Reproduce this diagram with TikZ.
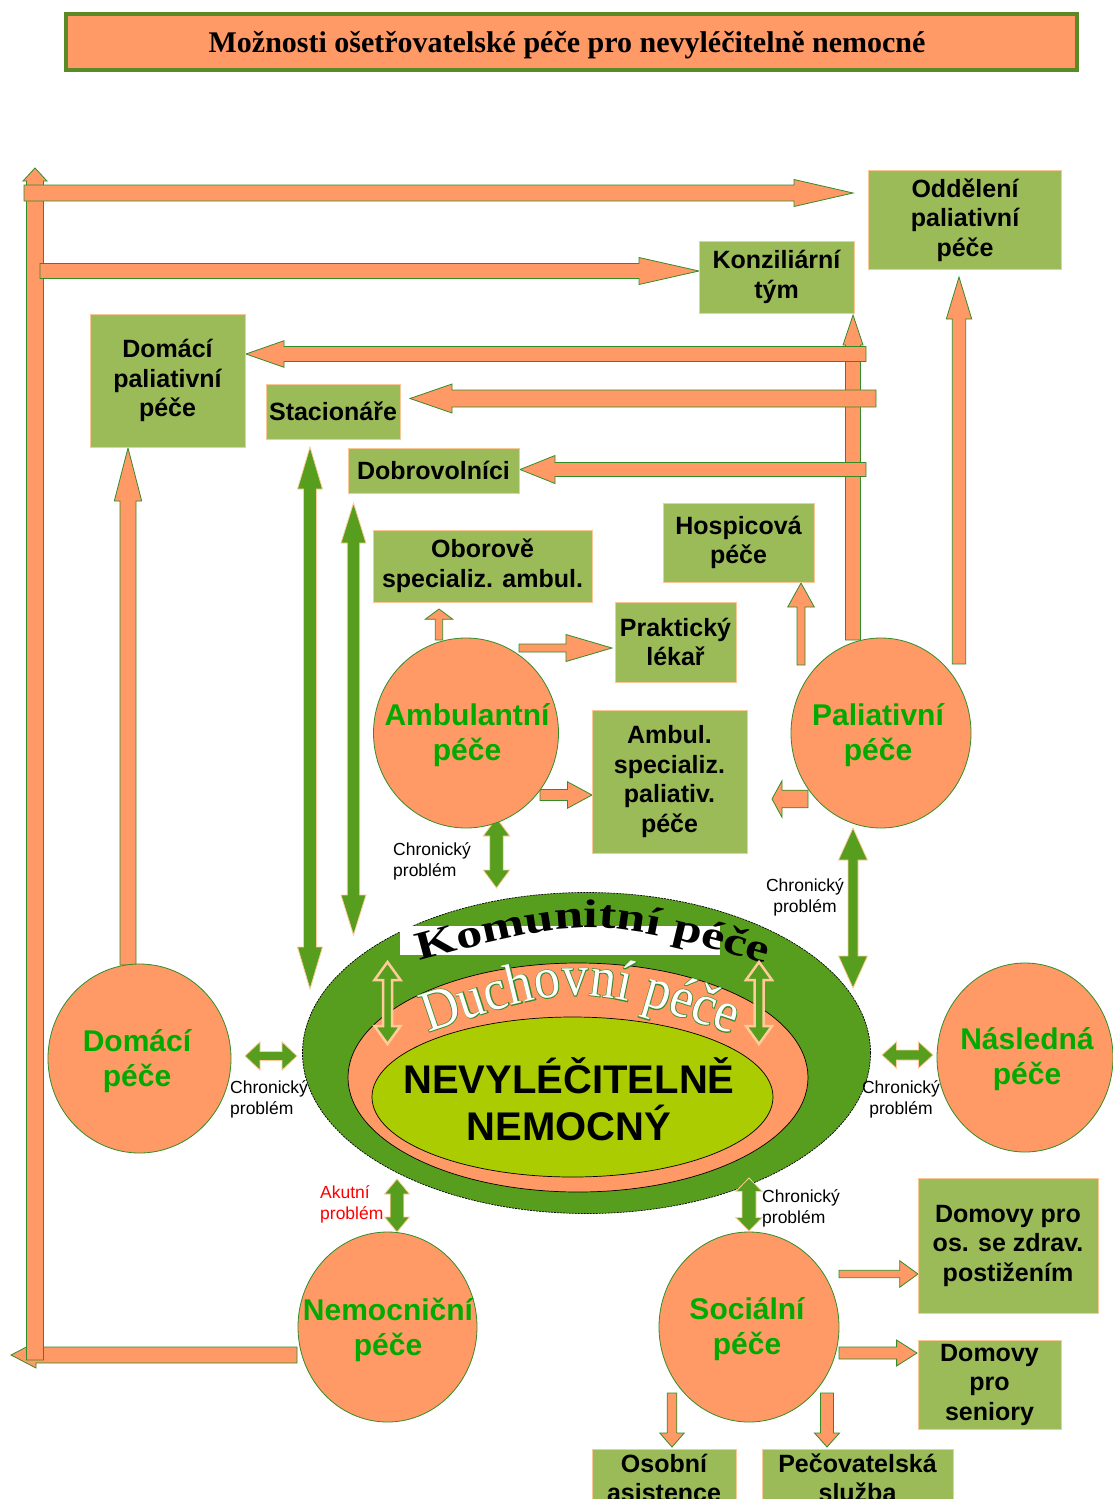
\documentclass[tikz,border=0pt]{standalone}
\usepackage{fontspec}
\setmainfont{Liberation Sans}
\newfontfamily\titlefont{Liberation Serif}
\newfontfamily\komfont{Liberation Serif}[FakeStretch=1.3]
\newfontfamily\duchfont{Liberation Serif}[FakeStretch=0.9]
\newfontfamily\duchfontO{Liberation Serif}[FakeStretch=0.9,FakeBold=2.5]
\usetikzlibrary{calc,shapes.geometric,decorations.text}
\definecolor{peach}{RGB}{255,153,102}
\definecolor{boxgreen}{RGB}{155,187,89}
\definecolor{boxedge}{RGB}{250,200,150}
\definecolor{agreen}{RGB}{88,158,30}
\definecolor{lineg}{RGB}{50,140,40}
\definecolor{txtgreen}{RGB}{0,170,0}
\definecolor{innerg}{RGB}{170,204,0}
\definecolor{lpeach}{RGB}{255,204,153}
\definecolor{titleedge}{RGB}{90,138,40}
\tikzset{
 gbox/.style={rectangle, draw=boxedge, fill=boxgreen, line width=1pt, align=center, inner sep=0pt, font=\bfseries\fontsize{25}{29.5}\selectfont},
 circ/.style={ellipse, draw=lineg, fill=peach, line width=0.8pt, inner sep=0pt},
 ctext/.style={inner sep=0pt, align=center, text=txtgreen, font=\bfseries\fontsize{30}{35}\selectfont},
 parr/.style={fill=peach, draw=lineg, line width=0.8pt},
 garr/.style={fill=agreen, draw=lpeach, line width=0.8pt},
 garrin/.style={fill=agreen, draw=lpeach, line width=2.5pt},
 lbl/.style={inner sep=0pt, font=\fontsize{17.5}{21}\selectfont},
}
% single block arrow: style, from, to, body half, head half, head length
\newcommand\barr[6]{%
  \coordinate (hb) at ($(#3)!#6pt!(#2)$);
  \path[#1] ($(#2)!#4pt!90:(#3)$) -- ($(hb)!#4pt!90:(#3)$) -- ($(hb)!#5pt!90:(#3)$) -- (#3)
    -- ($(hb)!#5pt!-90:(#3)$) -- ($(hb)!#4pt!-90:(#3)$) -- ($(#2)!#4pt!-90:(#3)$) -- cycle;}
% double block arrow
\newcommand\dbarr[6]{%
  \coordinate (ha) at ($(#2)!#6pt!(#3)$);
  \coordinate (hc) at ($(#3)!#6pt!(#2)$);
  \path[#1] (#2) -- ($(ha)!#5pt!90:(#3)$) -- ($(ha)!#4pt!90:(#3)$) -- ($(hc)!#4pt!90:(#3)$)
    -- ($(hc)!#5pt!90:(#3)$) -- (#3) -- ($(hc)!#5pt!-90:(#3)$) -- ($(hc)!#4pt!-90:(#3)$)
    -- ($(ha)!#4pt!-90:(#3)$) -- ($(ha)!#5pt!-90:(#3)$) -- cycle;}
\begin{document}
\begin{tikzpicture}[x=1pt,y=-1pt]
\useasboundingbox (0,0) rectangle (1113,1499);
\clip (0,0) rectangle (1113,1499);
\fill[white] (0,0) rectangle (1113,1499);

% title
\node[rectangle, draw=titleedge, line width=4pt, fill=peach, minimum width=1011pt, minimum height=56pt] (title) at (571.5,42) {};
\node[font=\titlefont\bfseries\fontsize{30}{32}\selectfont, inner sep=0pt] (titletext) at (567,45) {Možnosti ošetřovatelské péče pro nevyléčitelně nemocné};

% coordinates of arrow ends
\coordinate (nemA) at (297,1355);  \coordinate (nemB) at (11,1355);
\coordinate (lbA) at (35,1360);    \coordinate (lbB) at (35,168);
\coordinate (topA) at (24,193);    \coordinate (topB) at (853,193);
\coordinate (konA) at (40,271);    \coordinate (konB) at (699,271);
\coordinate (v853A) at (853,640);  \coordinate (v853B) at (853,315);
\coordinate (h353A) at (866,354);  \coordinate (h353B) at (246,354);
\coordinate (h398A) at (876,398.5);\coordinate (h398B) at (410,398.5);
\coordinate (h469A) at (866,469.5);\coordinate (h469B) at (520,469.5);
\coordinate (v959A) at (959,664);  \coordinate (v959B) at (959,277);
\coordinate (hosA) at (801,665);   \coordinate (hosB) at (801,583);
\coordinate (aspA) at (808,799);   \coordinate (aspB) at (772,799);
\coordinate (amsA) at (540,795);   \coordinate (amsB) at (592,795);
\coordinate (prA) at (519,648);    \coordinate (prB) at (612,648);
\coordinate (obA) at (439,640);    \coordinate (obB) at (439,609);
\coordinate (dpA) at (128,965);    \coordinate (dpB) at (128,448);
\coordinate (s1A) at (839,1274);   \coordinate (s1B) at (918,1274);
\coordinate (s2A) at (839,1353);   \coordinate (s2B) at (917,1353);
\coordinate (s3A) at (672,1393);   \coordinate (s3B) at (672,1447);
\coordinate (s4A) at (827,1393);   \coordinate (s4B) at (827,1447);
\coordinate (g1A) at (310,447);    \coordinate (g1B) at (310,989);
\coordinate (g2A) at (353.5,503);  \coordinate (g2B) at (353.5,935);
\coordinate (g3A) at (496.5,818);  \coordinate (g3B) at (496.5,888);
\coordinate (g4A) at (853,828);    \coordinate (g4B) at (853,988);
\coordinate (g5A) at (245,1056);   \coordinate (g5B) at (297,1056);
\coordinate (g6A) at (882,1055);   \coordinate (g6B) at (933,1055);
\coordinate (g7A) at (397,1179);   \coordinate (g7B) at (397,1232);
\coordinate (g8A) at (749,1178);   \coordinate (g8B) at (749,1231);
\coordinate (i1A) at (387.5,962);  \coordinate (i1B) at (387.5,1044);
\coordinate (i2A) at (759,962);    \coordinate (i2B) at (759,1044);
\coordinate (komA) at (404,965);   \coordinate (komC) at (590,915);  \coordinate (komB) at (782,968);
\coordinate (duA) at (414,1037);   \coordinate (duC) at (578,981);   \coordinate (duB) at (746,1039);

% back peach arrows
\barr{parr}{nemA}{nemB}{8}{13}{25}
\barr{parr}{lbA}{lbB}{8.5}{12}{13}
\barr{parr}{topA}{topB}{8}{13.5}{59}
\barr{parr}{konA}{konB}{7.5}{13.5}{60}
\barr{parr}{v853A}{v853B}{7.5}{10}{30}
\barr{parr}{h353A}{h353B}{7.5}{13.3}{38}
\barr{parr}{h398A}{h398B}{8.5}{14.5}{42}
\barr{parr}{h469A}{h469B}{7}{14}{35}
\barr{parr}{v959A}{v959B}{6.7}{12.7}{42}

% central ellipses
\node[ellipse, fill=agreen, draw=black, line width=0.7pt, dash pattern=on 2pt off 1pt, minimum width=568pt, minimum height=321pt] (komun) at (586.5,1053) {};
\node[rectangle, fill=white, minimum width=320pt, minimum height=29pt, inner sep=0pt] (kombg) at (560,940.5) {};
\node[ellipse, fill=peach, draw=black, line width=0.7pt, minimum width=460pt, minimum height=229pt] (duch) at (578,1077.5) {};
\node[ellipse, fill=innerg, draw=black, line width=0.7pt, minimum width=401pt, minimum height=160pt, inner sep=0pt] (pat) at (572.5,1097) {};
\node[align=center, font=\bfseries\fontsize{40}{47}\selectfont, inner sep=0pt] (pattext) at (569,1099) {NEVYLÉČITELNĚ\\NEMOCNÝ};

\path[decorate, decoration={text along path, text align=center,
   text={|\komfont\bfseries\fontsize{40}{40}\selectfont\color{black}|Komunitní péče}}] (komA) .. controls (komC) .. (komB);
\path[decorate, decoration={text along path, text align=center,
   text={|\duchfontO\fontsize{58}{58}\selectfont\color{lineg}|Duchovní péče}}] (duA) .. controls (duC) .. (duB);
\path[decorate, decoration={text along path, text align=center,
   text={|\duchfont\fontsize{58}{58}\selectfont\color{white}|Duchovní péče}}] (duA) .. controls (duC) .. (duB);

\dbarr{garrin}{i1A}{i1B}{4.5}{13}{18}
\dbarr{garrin}{i2A}{i2B}{4.5}{13}{18}

% green double arrows
\dbarr{garr}{g1A}{g1B}{6.5}{12.5}{42}
\dbarr{garr}{g2A}{g2B}{6.2}{12.5}{40}
\dbarr{garr}{g3A}{g3B}{6.7}{13.3}{18}
\dbarr{garr}{g4A}{g4B}{5}{14.5}{32}
\dbarr{garr}{g5A}{g5B}{4.5}{14.2}{15}
\dbarr{garr}{g6A}{g6B}{5}{13.3}{14.5}
\dbarr{garr}{g7A}{g7B}{6.8}{12.5}{15}
\dbarr{garr}{g8A}{g8B}{7}{13.2}{13.5}

% other peach arrows
\barr{parr}{hosA}{hosB}{4}{13.3}{24}
\barr{parr}{aspA}{aspB}{8.8}{18.3}{10}
\barr{parr}{amsA}{amsB}{5.5}{13.3}{24.6}
\barr{parr}{prA}{prB}{4}{13.5}{46}
\barr{parr}{obA}{obB}{3.7}{13.8}{10.3}
\barr{parr}{dpA}{dpB}{8}{13.7}{53}
\barr{parr}{s1A}{s1B}{3.7}{13.3}{18.3}
\barr{parr}{s2A}{s2B}{6}{13}{20.4}
\barr{parr}{s3A}{s3B}{4.8}{12.2}{14}
\barr{parr}{s4A}{s4B}{6.5}{12.5}{14}

% green boxes
\node[gbox, minimum width=193pt, minimum height=99pt] (oddel) at (965,220) {Oddělení\\paliativní\\péče};
\node[gbox, minimum width=155pt, minimum height=72pt] (konz) at (776.5,277) {Konziliární\\tým};
\node[gbox, minimum width=155pt, minimum height=133pt] (dompal) at (167.5,380.5) {Domácí\\paliativní\\péče};
\node[gbox, minimum width=134pt, minimum height=55pt] (stac) at (333,411.5) {Stacionáře};
\node[gbox, minimum width=171pt, minimum height=45pt] (dobr) at (433.5,470.5) {Dobrovolníci};
\node[gbox, minimum width=219pt, minimum height=72pt] (obor) at (482.5,566) {Oborově\\specializ. ambul.};
\node[gbox, minimum width=151pt, minimum height=79pt] (hosp) at (738.5,542.5) {Hospicová\\péče};
\node[gbox, minimum width=121pt, minimum height=80pt] (prakt) at (675.5,642) {Praktický\\lékař};
\node[gbox, minimum width=155pt, minimum height=143pt] (ambsp) at (669.5,781.5) {Ambul.\\specializ.\\paliativ.\\péče};
\node[gbox, minimum width=180pt, minimum height=135pt] (domzdr) at (1008,1245.5) {Domovy pro\\os. se zdrav.\\postižením};
\node[gbox, minimum width=143pt, minimum height=89pt] (domsen) at (989.5,1384.5) {Domovy\\pro\\seniory};
\node[gbox, minimum width=144pt, minimum height=58pt] (osob) at (664,1478) {Osobní\\asistence};
\node[gbox, minimum width=191pt, minimum height=58pt] (pecov) at (857.5,1478) {Pečovatelská\\služba};

% circles
\node[circ, minimum width=185pt, minimum height=190pt] (ambul) at (466,733) {};
\node[ctext] (ambulT) at (467,735) {Ambulantní\\péče};
\node[circ, minimum width=180pt, minimum height=190pt] (paliat) at (881,733) {};
\node[ctext] (paliatT) at (878,735) {Paliativní\\péče};
\node[circ, minimum width=183pt, minimum height=189pt] (domaci) at (139.5,1058.5) {};
\node[ctext] (domaciT) at (137,1061) {Domácí\\péče};
\node[circ, minimum width=176pt, minimum height=189pt] (nasled) at (1025,1057.5) {};
\node[ctext] (nasledT) at (1027,1059) {Následná\\péče};
\node[circ, minimum width=179pt, minimum height=190pt] (nemoc) at (387.5,1327) {};
\node[ctext] (nemocT) at (388,1329.5) {Nemocniční\\péče};
\node[circ, minimum width=180pt, minimum height=190pt] (social) at (749,1327) {};
\node[ctext] (socialT) at (747,1329.5) {Sociální\\péče};

% labels
\node[lbl, anchor=west, align=left] (l1) at (393,861) {Chronický\\problém};
\node[lbl, align=center] (l2) at (805,897) {Chronický\\problém};
\node[lbl, anchor=west, align=left] (l3) at (230,1099) {Chronický\\problém};
\node[lbl, align=center] (l4) at (901,1099) {Chronický\\problém};
\node[lbl, anchor=west, align=left, text=red] (l5) at (320,1204) {Akutní\\problém};
\node[lbl, anchor=west, align=left] (l6) at (762,1208) {Chronický\\problém};
\end{tikzpicture}
\end{document}
